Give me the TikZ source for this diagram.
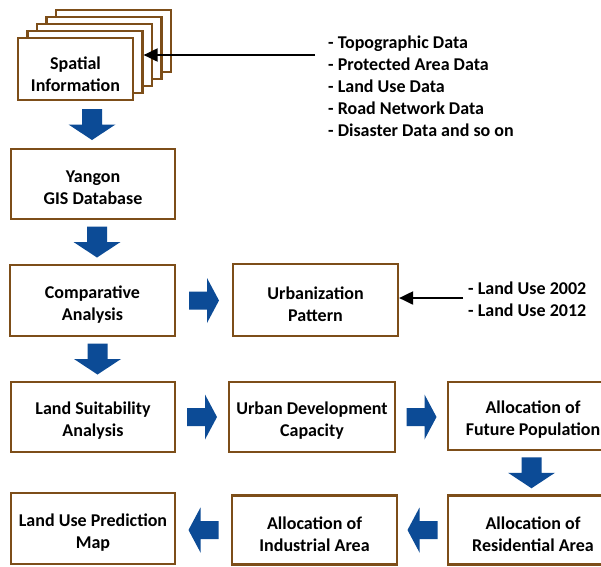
\documentclass[tikz,border=0pt]{standalone}
\usepackage{fontspec}
\setmainfont{Carlito}
\usetikzlibrary{calc,arrows.meta}
\definecolor{boxbrown}{RGB}{125,78,25}
\definecolor{arrblue}{RGB}{12,75,150}
\tikzset{
  txt/.style={font=\fontsize{18}{22}\selectfont\bfseries},
  box/.style={draw=boxbrown, line width=2.2pt, fill=white, inner sep=0pt},
  boxtext/.style={txt, align=center, inner sep=0pt},
  page/.style={box, minimum width=115pt, minimum height=62pt},
  listline/.style={txt, anchor=base west, inner sep=0pt},
  thinarrow/.style={draw=black, line width=2pt, -{Triangle[length=14pt,width=13pt]}},
  blockarrow/.style={fill=arrblue}
}
\newcommand\downblock[3]{%
  \fill[blockarrow] let \p1=(#1.south), \p2=(#2.north) in
  ([xshift=#3pt]\x2,{0.5*\y1+0.5*\y2}) ++(-10pt,15.5pt) -- ++(20pt,0) -- ++(0,-15.5pt)
  -- ++(13.5pt,0) -- ++(-23.5pt,-15.5pt) -- ++(-23.5pt,15.5pt) -- ++(13.5pt,0) -- cycle;}
\newcommand\rightblock[2]{%
  \fill[blockarrow] let \p1=(#1.east), \p2=(#2.west) in
  ({0.5*\x1+0.5*\x2},\y1) ++(-15pt,9pt) -- ++(18pt,0) -- ++(0,13.5pt) -- ++(12pt,-22.5pt)
  -- ++(-12pt,-22.5pt) -- ++(0,13.5pt) -- ++(-18pt,0) -- cycle;}
\newcommand\leftblock[2]{%
  \fill[blockarrow] let \p1=(#1.west), \p2=(#2.east) in
  ({0.5*\x1+0.5*\x2},\y1) ++(15pt,9pt) -- ++(-18pt,0) -- ++(0,13.5pt) -- ++(-12pt,-22.5pt)
  -- ++(12pt,-22.5pt) -- ++(0,13.5pt) -- ++(18pt,0) -- cycle;}
% box with text: name, x, y, width, height, text
\newcommand\bx[6]{%
  \node[box, minimum width=#4pt, minimum height=#5pt] (#1) at (#2,#3) {};
  \node[boxtext] (#1-t) at ([yshift=-4pt]#1.center) {#6};}
\begin{document}
\begin{tikzpicture}[x=1pt,y=-1pt]
\useasboundingbox (0,0) rectangle (601,566);
\clip (0,0) rectangle (601,566);
\fill[white] (0,0) rectangle (601,566);
% stacked pages
\node[page] (p4) at (113.5,41) {};
\node[page] (p3) at (104,48) {};
\node[page] (p2) at (94.5,55) {};
\node[page] (p1) at (85,62) {};
\node[page] (spatial) at (75.5,69) {};
\node[boxtext] (spatial-t) at ([yshift=-5pt]spatial.center) {Spatial\\Information};
% boxes
\bx{yangon}{93}{184}{164}{70}{Yangon\\GIS Database}
\bx{comp}{92.5}{300.5}{165}{71}{Comparative\\Analysis}
\bx{urban}{315.5}{300}{165}{72}{Urbanization\\Pattern}
\bx{suit}{93}{417}{164}{70}{Land Suitability\\Analysis}
\bx{udev}{312}{417}{166}{70}{Urban Development\\Capacity}
\bx{future}{533}{416}{170}{68}{Allocation of\\Future Population}
\bx{pred}{93}{528.5}{164}{71}{Land Use Prediction\\Map}
\bx{indus}{314.5}{530}{165}{69}{Allocation of\\Industrial Area}
\bx{resid}{533}{530}{170}{69}{Allocation of\\Residential Area}
% lists
\node[listline] (l1) at (328,48) {- Topographic Data};
\node[listline] (l2) at (328,70.2) {- Protected Area Data};
\node[listline] (l3) at (328,92.4) {- Land Use Data};
\node[listline] (l4) at (328,114.6) {- Road Network Data};
\node[listline] (l5) at (328,136.8) {- Disaster Data and so on};
\node[listline] (m1) at (468,294) {- Land Use 2002};
\node[listline] (m2) at (468,316) {- Land Use 2012};
% thin arrows
\coordinate (c1) at (315,55);
\draw[thinarrow] (c1) -- (c1 -| p1.east);
\coordinate (c2) at (463,298);
\draw[thinarrow] (c2) -- (c2 -| urban.east);
% block arrows
\downblock{spatial}{yangon}{-1}
\downblock{yangon}{comp}{4.5}
\downblock{comp}{suit}{4.5}
\downblock{future}{resid}{-1.5}
\rightblock{comp}{urban}
\rightblock{suit}{udev}
\rightblock{udev}{future}
\leftblock{indus}{pred}
\leftblock{resid}{indus}
\end{tikzpicture}
\end{document}
